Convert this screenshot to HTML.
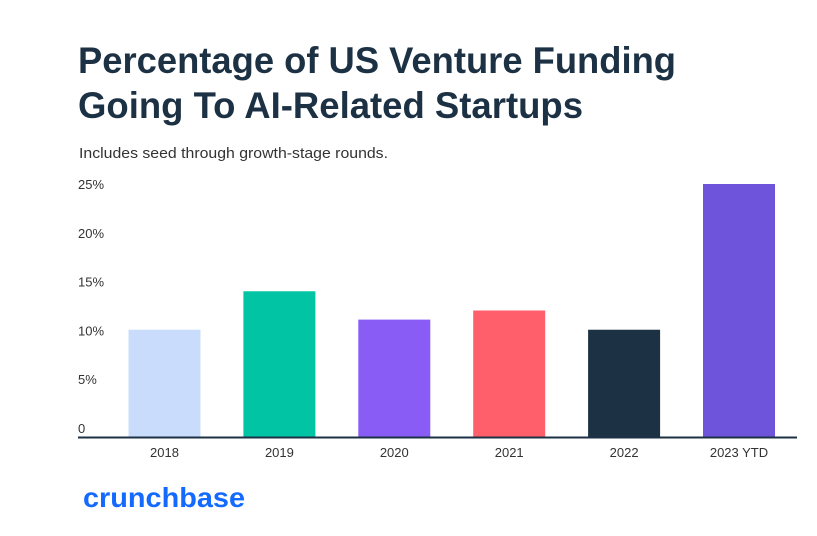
<!DOCTYPE html>
<html><head><meta charset="utf-8"><style>
body{margin:0;background:#fff;}
svg{display:block;font-family:"Liberation Sans",Arial,sans-serif;}
</style></head><body>
<svg id="chart" width="817" height="536" viewBox="0 0 817 536">
<text x="78" y="73" font-size="37" font-weight="bold" fill="#1c3144" textLength="598" lengthAdjust="spacingAndGlyphs">Percentage of US Venture Funding</text>
<text x="78" y="118" font-size="37" font-weight="bold" fill="#1c3144" textLength="505" lengthAdjust="spacingAndGlyphs">Going To AI-Related Startups</text>
<text x="79" y="158" font-size="15" fill="#333" textLength="309" lengthAdjust="spacingAndGlyphs">Includes seed through growth-stage rounds.</text>
<g id="yticks"></g><g id="bars"></g><g id="xlabels"></g>
<line x1="78" x2="797" y1="437.5" y2="437.5" stroke="#1c3144" stroke-width="2"/>
<text x="83" y="507" font-size="28" font-weight="bold" fill="#146aff" textLength="162" lengthAdjust="spacingAndGlyphs">crunchbase</text>
</svg>
<script>
const categories=["2018","2019","2020","2021","2022","2023 YTD"];
const values=[10.6,14.4,11.6,12.5,10.6,25];
const colors=["#c9dcfb","#00c4a4","#8a5cf6","#ff5f6b","#1c3144","#6e53db"];
const tickValues=[0,5,10,15,20,25];
const tickLabels=["0","5%","10%","15%","20%","25%"];
const NS="http://www.w3.org/2000/svg";
const y0=437,y25=184;
function yScale(v){return y0-(y0-y25)*v/25;}
function labelY(v){return 433-(433-189)*v/25;}
function xCenter(i){return 164.5+i*114.9;}
const bw=72;
const yt=document.getElementById('yticks'),bg=document.getElementById('bars'),xl=document.getElementById('xlabels');
tickValues.forEach((v,i)=>{
 const t=document.createElementNS(NS,'text');
 t.setAttribute('x',78);t.setAttribute('y',labelY(v));
 t.setAttribute('font-size','13');t.setAttribute('fill','#333');
 t.textContent=tickLabels[i];
 
 
 yt.appendChild(t);
});
categories.forEach((c,i)=>{
 const r=document.createElementNS(NS,'rect');
 const top=yScale(values[i]);
 r.setAttribute('x',xCenter(i)-bw/2);r.setAttribute('y',top);
 r.setAttribute('width',bw);r.setAttribute('height',y0-top);
 r.setAttribute('fill',colors[i]);
 
 
 bg.appendChild(r);
 const t=document.createElementNS(NS,'text');
 t.setAttribute('x',xCenter(i));t.setAttribute('y',457);
 t.setAttribute('font-size','13');t.setAttribute('fill','#333');t.setAttribute('text-anchor','middle');
 t.textContent=c;
 
 
 xl.appendChild(t);
});
</script>
</body></html>
